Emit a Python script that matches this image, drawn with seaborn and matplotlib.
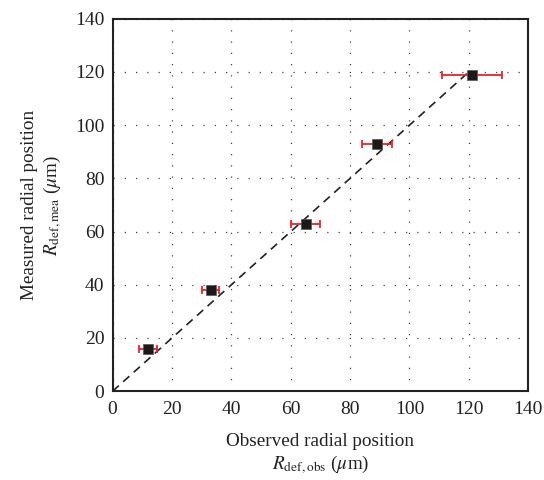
import matplotlib
matplotlib.use("Agg")
import matplotlib.pyplot as plt
import seaborn as sns
import pandas as pd
import numpy as np

x_obs = [12, 33, 65, 89, 121]
y_mea = [16, 38, 63, 93, 119]
x_err = [3, 3, 5, 5, 10]
ref_line = [0, 120]
ticks = [0, 20, 40, 60, 80, 100, 120, 140]

sns.set_theme(style="white")
plt.rcParams['font.family'] = ['Liberation Serif', 'DejaVu Serif']
plt.rcParams['mathtext.fontset'] = 'stix'

fig = plt.figure(figsize=(5.44, 4.8), dpi=100)
ax = fig.add_axes([0.207, 0.185, 0.764, 0.776])

df = pd.DataFrame({"x": x_obs, "y": y_mea})
line_df = pd.DataFrame({"x": ref_line, "y": ref_line})
sns.lineplot(data=line_df, x="x", y="y", ax=ax, color="#222222", lw=1.2,
             dashes=False, linestyle=(0, (5, 3.5)), zorder=2)
ax.errorbar(x_obs, y_mea, xerr=x_err, fmt="none", ecolor="#e8232a",
            elinewidth=1.3, capsize=3.2, capthick=1.3, zorder=3)
sns.scatterplot(data=df, x="x", y="y", ax=ax, marker="s", s=48,
                color="#1a1a1a", edgecolor="#555555", linewidth=0.5, zorder=4)

ax.set_xlim(0, 140)
ax.set_ylim(0, 140)
ax.set_xticks(ticks)
ax.set_yticks(ticks)
ax.grid(True, color="#444444", linestyle=(0, (1, 8)), linewidth=0.9)
ax.tick_params(axis="y", length=0, labelsize=14, colors="#222222", pad=6)
ax.tick_params(axis="x", length=0, labelsize=14, colors="#222222", pad=7)
for s in ax.spines.values():
    s.set_color("#222222")
    s.set_linewidth(1.5)

ax.set_xlabel("Observed radial position\n$R_{\\mathrm{def,obs}}$ ($\\mu$m)",
              fontsize=13.8, color="#222222", labelpad=11, linespacing=1.25)
ax.set_ylabel("Measured radial position\n$R_{\\mathrm{def,mea}}$ ($\\mu$m)",
              fontsize=13.8, color="#222222", labelpad=8, linespacing=1.25)

fig.savefig("out.png", dpi=100)
